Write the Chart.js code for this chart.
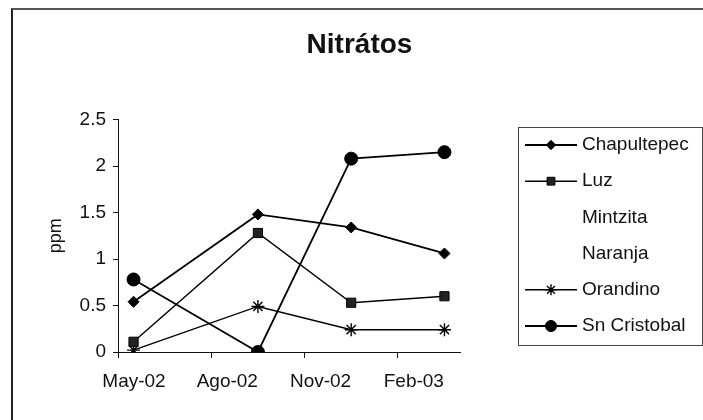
<!DOCTYPE html>
<html>
<head>
<meta charset="utf-8">
<title>Nitrátos</title>
<script src="https://cdn.jsdelivr.net/npm/chart.js@4.4.1/dist/chart.umd.min.js"></script>
<style>
  html, body { margin: 0; padding: 0; background: #fff; }
  #marco { position: relative; width: 703px; height: 420px; overflow: hidden; }
  #grafica { position: absolute; left: 0; top: 0; }
  #borde {
    position: absolute; left: 11px; top: 8px; width: 800px; height: 500px;
    border-top: 2px solid #555; border-left: 2px solid #222; pointer-events: none;
  }
</style>
</head>
<body>
<div id="marco">
  <canvas id="grafica" width="703" height="420"></canvas>
  <div id="borde"></div>
</div>
<script>
// Sampling dates, in months after 1 May 2002 (mid-May, mid-Sep, mid-Dec, mid-Mar)
const muestreos = [0.5, 4.5, 7.5, 10.5];
// Axis tick marks (start of month) and their labels
const marcasMes = [0, 3, 6, 9];
const etiquetasMes = ['May-02', 'Ago-02', 'Nov-02', 'Feb-03'];
const yTicks = [0, 0.5, 1, 1.5, 2, 2.5];

// Nitrate concentration (ppm) per site
const chapultepec = [0.54, 1.48, 1.34, 1.06];
const luz         = [0.11, 1.28, 0.53, 0.60];
const mintzita    = [null, null, null, null];
const naranja     = [null, null, null, null];
const orandino    = [0.02, 0.49, 0.24, 0.24];
const snCristobal = [0.78, 0.00, 2.08, 2.15];

const FONT = '"Liberation Sans", Arial, Helvetica, sans-serif';
Chart.defaults.font.family = FONT;
Chart.defaults.color = '#111';

const puntos = vals => muestreos.map((x, i) => ({ x: x, y: vals[i] }));

function serie(label, vals, style, radius, lineWidth, fill) {
  return {
    label: label,
    data: puntos(vals),
    borderColor: '#000',
    borderWidth: lineWidth,
    backgroundColor: fill,
    pointStyle: style,
    pointRadius: radius,
    pointHoverRadius: radius,
    pointBackgroundColor: fill,
    pointBorderColor: '#000',
    pointBorderWidth: style === 'star' ? 1.4 : 1,
    showLine: style !== false,
    tension: 0,
    spanGaps: false
  };
}

const datasets = [
  serie('Chapultepec', chapultepec, 'rectRot', 5.5, 1.8, '#000'),
  serie('Luz', luz, 'rect', 6.5, 1.4, '#222'),
  serie('Mintzita', mintzita, false, 0, 0, '#000'),
  serie('Naranja', naranja, false, 0, 0, '#000'),
  serie('Orandino', orandino, 'star', 6.5, 1.4, '#000'),
  serie('Sn Cristobal', snCristobal, 'circle', 6.5, 1.8, '#000')
];

// Boxed legend on the right, each entry showing the series' line and marker
const leyendaCuadro = {
  id: 'leyendaCuadro',
  afterDraw(chart) {
    const ctx = chart.ctx;
    const caja = { left: 518.5, top: 127.5, width: 184, height: 218 };
    ctx.save();
    ctx.strokeStyle = '#444';
    ctx.lineWidth = 1;
    ctx.strokeRect(caja.left, caja.top, caja.width, caja.height);
    chart.data.datasets.forEach((ds, i) => {
      const y = 145 + i * 36.2;
      if (ds.showLine !== false) {
        ctx.beginPath();
        ctx.strokeStyle = ds.borderColor;
        ctx.lineWidth = ds.borderWidth;
        ctx.moveTo(525, y);
        ctx.lineTo(577, y);
        ctx.stroke();
      }
      if (ds.pointStyle) {
        ctx.fillStyle = ds.pointBackgroundColor;
        ctx.strokeStyle = ds.pointBorderColor;
        ctx.lineWidth = ds.pointBorderWidth;
        Chart.helpers.drawPoint(ctx, {
          pointStyle: ds.pointStyle, rotation: 0,
          radius: ds.pointRadius * 0.85, borderWidth: ds.pointBorderWidth
        }, 551, y);
      }
      ctx.fillStyle = '#111';
      ctx.font = '19px ' + FONT;
      ctx.textAlign = 'left';
      ctx.textBaseline = 'middle';
      ctx.fillText(ds.label, 582, y);
    });
    ctx.restore();
  }
};

new Chart(document.getElementById('grafica'), {
  type: 'line',
  data: { datasets: datasets },
  options: {
    responsive: false,
    animation: false,
    devicePixelRatio: 1,
    layout: { padding: { left: 16, right: 0, top: 0, bottom: 0 } },
    plugins: {
      legend: { display: false },
      tooltip: { enabled: false },
      title: {
        display: true,
        text: 'Nitrátos',
        color: '#111',
        font: { size: 28, weight: 'bold', family: FONT, lineHeight: 1.2 },
        padding: { top: 28, bottom: 58 }
      }
    },
    scales: {
      x: {
        type: 'linear',
        min: 0,
        max: 11,
        afterBuildTicks: s => { s.ticks = marcasMes.map(v => ({ value: v })); },
        afterFit: s => { s.height = 68; },
        ticks: {
          autoSkip: false,
          maxRotation: 0,
          minRotation: 0,
          labelOffset: 16,
          padding: 12,
          color: '#111',
          font: { size: 19 },
          callback: v => etiquetasMes[marcasMes.indexOf(v)]
        },
        grid: { display: true, drawOnChartArea: false, drawTicks: true, tickLength: 6, color: '#111', lineWidth: 1 },
        border: { display: true, color: '#111', width: 1 }
      },
      y: {
        type: 'linear',
        position: 'left',
        min: 0,
        max: 2.5,
        afterBuildTicks: s => { s.ticks = yTicks.map(v => ({ value: v })); },
        afterFit: s => { s.width = 102; },
        ticks: {
          padding: 7,
          color: '#111',
          font: { size: 19 },
          callback: v => String(v)
        },
        grid: { display: true, drawOnChartArea: false, drawTicks: true, tickLength: 5, color: '#111', lineWidth: 1 },
        border: { display: true, color: '#111', width: 1 },
        title: {
          display: true,
          text: 'ppm',
          color: '#111',
          font: { size: 18 },
          padding: { top: 29, bottom: 0 }
        }
      },
      legendSpace: {
        type: 'linear',
        position: 'right',
        display: true,
        afterFit: s => { s.width = 243; },
        grid: { display: false },
        ticks: { display: false },
        border: { display: false }
      }
    }
  },
  plugins: [leyendaCuadro]
});
</script>
</body>
</html>
